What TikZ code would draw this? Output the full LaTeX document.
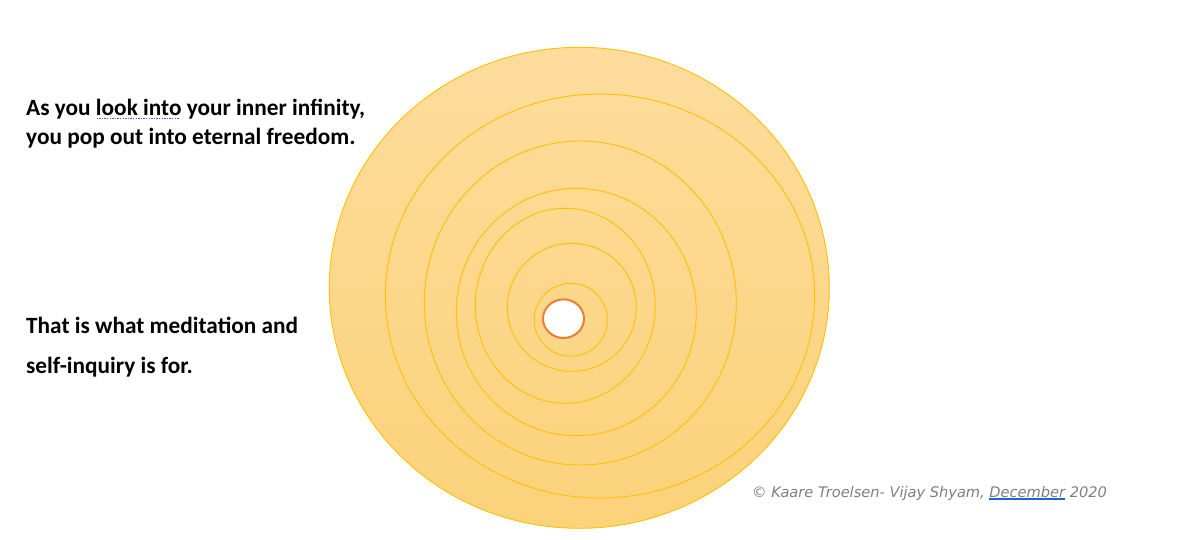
\documentclass[tikz,border=0pt]{standalone}
\usepackage{fontspec}
\setmainfont{Carlito}
\newfontfamily\signfont{DejaVu Sans}
\usetikzlibrary{positioning}

\definecolor{ringgold}{HTML}{FFC000}
\definecolor{sunTop}{HTML}{FDDC9C}
\definecolor{sunBottom}{HTML}{FCD27A}
\definecolor{coreorange}{HTML}{ED7D31}
\definecolor{signgray}{HTML}{7F7F7F}
\definecolor{grammarmark}{HTML}{5B4FE0}
\definecolor{linkblue}{HTML}{1F5FE0}

% underlines as the picture shows them
\newsavebox\markbox
\newcommand\dotunder[1]{\sbox\markbox{#1}\rlap{\usebox\markbox}%
  \raisebox{-3.5pt}{\color{grammarmark}\leaders\hbox to 2.6pt{\hss\rule{1.4pt}{1.3pt}\hss}\hskip\wd\markbox}}
\newcommand\lineunder[1]{\sbox\markbox{#1}\rlap{\usebox\markbox}%
  \raisebox{-3pt}{\color{linkblue}\rule{\wd\markbox}{1.6pt}}}

\begin{document}
\begin{tikzpicture}[
  x=1pt, y=-1pt,
  ring/.style={draw=ringgold, line width=0.9pt},
  quote/.style={anchor=base west, align=left, inner sep=0pt, font=\bfseries\fontsize{23.3}{29}\selectfont},
  sign/.style={anchor=base west, inner sep=0pt, text=signgray, font=\signfont\itshape\fontsize{14.6}{16}\selectfont}
]
\useasboundingbox (0,0) rectangle (1192,540);

% outer disc with soft gradient
\shade[top color=sunTop, bottom color=sunBottom, draw=ringgold, line width=0.9pt]
  (579.3,287.8) ellipse [x radius=250, y radius=240.5];

% rings, outside in
\draw[ring] (600,296) ellipse [x radius=214.7, y radius=202];
\draw[ring] (580.3,303) ellipse [x radius=156, y radius=162];
\draw[ring] (576.3,312) ellipse [x radius=120, y radius=123.7];
\draw[ring] (565.3,305.8) ellipse [x radius=90, y radius=97.5];
\draw[ring] (571.8,307.3) ellipse [x radius=64.5, y radius=64];
\draw[ring] (570.8,319.8) ellipse [x radius=36.5, y radius=36.5];

% the core
\draw[draw=coreorange, fill=white, line width=2pt]
  (563.5,318.7) ellipse [x radius=20.5, y radius=19.3];

% texts (base = last line)
\node[quote] (infinity) at (26,145)
  {As you \dotunder{look into} your inner infinity,\\
   you pop out into eternal freedom.};
\node[quote, font=\bfseries\fontsize{23.3}{40}\selectfont] (inquiry) at (26,373)
  {That is what meditation and\\ self-inquiry is for.};
\node[sign] (credit) at (752,497)
  {© Kaare Troelsen- Vijay Shyam, \lineunder{December} 2020};
\end{tikzpicture}
\end{document}
